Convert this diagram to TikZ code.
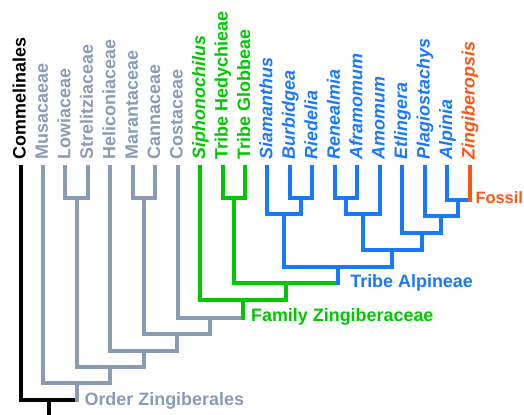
\documentclass[tikz,border=0pt]{standalone}
\usepackage{fontspec}
\setmainfont{Liberation Sans}
\usetikzlibrary{calc}
\definecolor{zgray}{RGB}{138,155,182}
\definecolor{zgreen}{RGB}{0,200,0}
\definecolor{zblue}{RGB}{24,120,255}
\definecolor{zorange}{RGB}{255,85,20}
% name, child a, child b, y, horizontal colour, colour a, colour b
\newcommand\cladejoin[7]{%
  \coordinate (#1m) at ($(#2)!0.5!(#3)$);
  \coordinate (#1) at (#1m |- 0,#4);
  \draw[#5] (#2 |- #1) -- (#3 |- #1);
  \draw[#6] (#2) -- (#2 |- #1);
  \draw[#7] (#3) -- (#3 |- #1);
}
\begin{document}
\begin{tikzpicture}[x=1bp,y=-1bp,line width=4bp,line cap=rect,
  tiplab/.style={rotate=90,anchor=base west,inner sep=0pt,
    font=\fontsize{18}{18}\selectfont\bfseries},
  genlab/.style={tiplab,font=\fontsize{18}{18}\selectfont\bfseries\itshape},
  cladelab/.style={anchor=base west,inner sep=0pt,
    font=\fontsize{18}{18}\selectfont\bfseries}]
\useasboundingbox (0,0) rectangle (524,414);
\foreach \lab/\sty/\col [count=\i from 0] in {
  Commelinales/tiplab/black, Musacaeae/tiplab/zgray, Lowiaceae/tiplab/zgray,
  Strelitziaceae/tiplab/zgray, Heliconiaceae/tiplab/zgray, Marantaceae/tiplab/zgray,
  Cannaceae/tiplab/zgray, Costaceae/tiplab/zgray, Siphonochilus/genlab/zgreen,
  Tribe Hedychieae/tiplab/zgreen, Tribe Globbeae/tiplab/zgreen,
  Siamanthus/genlab/zblue, Burbidgea/genlab/zblue, Riedelia/genlab/zblue,
  Renealmia/genlab/zblue, Aframomum/genlab/zblue, Amomum/genlab/zblue,
  Etlingera/genlab/zblue, Plagiostachys/genlab/zblue, Alpinia/genlab/zblue,
  Zingiberopsis/genlab/zorange}
{
  \coordinate (t\i) at (20.5+22.45*\i,167);
  \node[\sty,text=\col] (l\i) at ($(t\i)+(5,-6)$) {\lab};
}
% Alpineae
\cladejoin{BR}{t12}{t13}{198}{zblue}{zblue}{zblue}
\cladejoin{RA}{t14}{t15}{198}{zblue}{zblue}{zblue}
\cladejoin{AZ}{t19}{t20}{200}{zblue}{zblue}{zorange}
\cladejoin{SBR}{t11}{BR}{214}{zblue}{zblue}{zblue}
\cladejoin{RAA}{RA}{t16}{214}{zblue}{zblue}{zblue}
\cladejoin{PAZ}{t18}{AZ}{216}{zblue}{zblue}{zblue}
\cladejoin{EP}{t17}{PAZ}{233}{zblue}{zblue}{zblue}
\cladejoin{RE}{RAA}{EP}{250}{zblue}{zblue}{zblue}
\cladejoin{ALP}{SBR}{RE}{267}{zblue}{zblue}{zblue}
% Zingiberaceae
\cladejoin{HG}{t9}{t10}{198}{zgreen}{zgreen}{zgreen}
\cladejoin{HA}{HG}{ALP}{283}{zgreen}{zgreen}{zblue}
\cladejoin{ZB}{t8}{HA}{300}{zgreen}{zgreen}{zgreen}
% Zingiberales
\cladejoin{LS}{t2}{t3}{198}{zgray}{zgray}{zgray}
\cladejoin{MC}{t5}{t6}{198}{zgray}{zgray}{zgray}
\cladejoin{CZ}{t7}{ZB}{318}{zgray}{zgray}{zgreen}
\cladejoin{MCZ}{MC}{CZ}{334}{zgray}{zgray}{zgray}
\cladejoin{HMC}{t4}{MCZ}{351}{zgray}{zgray}{zgray}
\cladejoin{LSH}{LS}{HMC}{367}{zgray}{zgray}{zgray}
\cladejoin{ZO}{t1}{LSH}{383}{zgray}{zgray}{zgray}
\cladejoin{ROOT}{t0}{ZO}{400}{black}{black}{zgray}
\coordinate (rootend) at (ROOT |- 0,418);
\draw[black] (ROOT) -- (rootend);
% clade labels
\node[cladelab,text=zorange,font=\fontsize{16.5}{16.5}\selectfont\bfseries] (fossil) at ($(t20 |- AZ)+(4,3)$) {Fossil};
\node[cladelab,text=zblue] (alpineae) at ($(ALP |- HA)+(10,4)$) {Tribe Alpineae};
\node[cladelab,text=zgreen] (zingiberaceae) at ($(ZB |- CZ)+(6,3)$) {Family Zingiberaceae};
\node[cladelab,text=zgray] (zingiberales) at ($(ZO |- ROOT)+(6,5)$) {Order Zingiberales};
\end{tikzpicture}
\end{document}
